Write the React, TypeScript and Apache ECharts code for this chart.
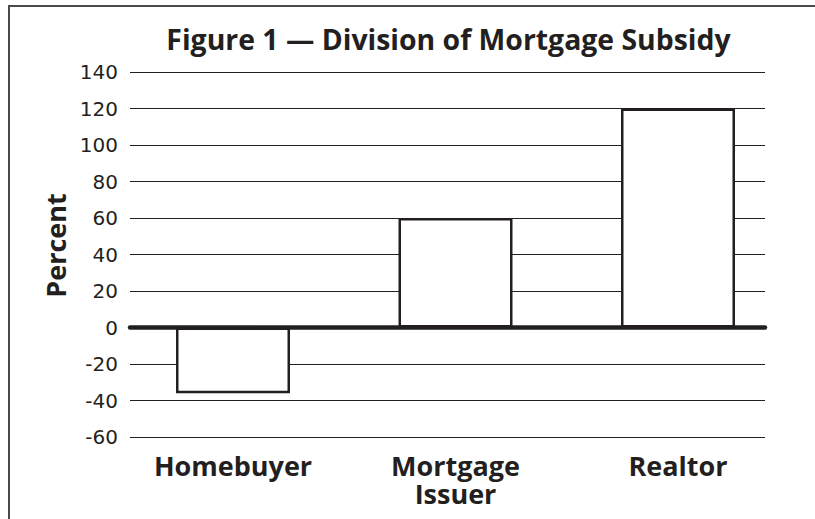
import React, { useEffect, useRef } from "react";
import * as echarts from "echarts";

const categories = ["Homebuyer", "Mortgage\nIssuer", "Realtor"];
const values = [-36, 60, 120];
const yMin = -60;
const yMax = 140;
const yInterval = 20;
const titleText = "Figure 1 \u2014 Division of Mortgage Subsidy";
const yName = "Percent";

const INK = "#231f20";
const FONT = "'Open Sans', 'Noto Sans', sans-serif";
const NUM_FONT = "'DejaVu Sans', 'Open Sans', sans-serif";

export default function App() {
  const ref = useRef<HTMLDivElement>(null);
  useEffect(() => {
    if (!ref.current) return;
    const chart = echarts.init(ref.current, undefined, { renderer: "svg" });
    chart.setOption({
      animation: false,
      backgroundColor: "#ffffff",
      textStyle: { fontFamily: FONT },
      graphic: [
        {
          type: "rect",
          shape: { x: 9, y: 6, width: 1000, height: 700 },
          style: { fill: "none", stroke: "#4a4a4a", lineWidth: 2 },
          silent: true,
          z: -1,
        },
        {
          type: "text",
          x: 448.5,
          y: 39,
          style: {
            text: titleText,
            fontFamily: FONT,
            fontWeight: "bold",
            fontSize: 28.4,
            fill: INK,
            textAlign: "center",
            textVerticalAlign: "middle",
          },
        },
        {
          type: "text",
          x: 55,
          y: 245.5,
          rotation: Math.PI / 2,
          style: {
            text: yName,
            fontFamily: FONT,
            fontWeight: "bold",
            fontSize: 27,
            fill: INK,
            textAlign: "center",
            textVerticalAlign: "middle",
          },
        },
      ],
      grid: [
        { left: 130, right: 50, top: 72, bottom: 82 },
        { left: 121.75, right: 25.75, top: 72, bottom: 82 },
      ],
      xAxis: [
        {
          type: "category",
          gridIndex: 0,
          data: categories,
          axisLine: { show: true, onZero: true, lineStyle: { color: INK, width: 4.5 } },
          axisTick: { show: false },
          axisLabel: { show: false },
          splitLine: { show: false },
          z: 5,
        },
        {
          type: "category",
          gridIndex: 1,
          data: categories,
          position: "bottom",
          axisLine: { show: false, onZero: false },
          axisTick: { show: false },
          axisLabel: {
            show: true,
            margin: 14,
            color: INK,
            fontFamily: FONT,
            fontWeight: "bold",
            fontSize: 27,
            lineHeight: 28,
            interval: 0,
          },
        },
      ],
      yAxis: [
        {
          type: "value",
          gridIndex: 0,
          min: yMin,
          max: yMax,
          interval: yInterval,
          axisLine: { show: false },
          axisTick: { show: false },
          axisLabel: { color: INK, fontFamily: NUM_FONT, fontSize: 20, margin: 12 },
          splitLine: { show: true, lineStyle: { color: INK, width: 1.2 } },
        },
        {
          type: "value",
          gridIndex: 1,
          min: yMin,
          max: yMax,
          interval: yInterval,
          show: false,
          splitLine: { show: false },
        },
      ],
      series: [
        {
          type: "bar",
          xAxisIndex: 1,
          yAxisIndex: 1,
          data: values,
          barWidth: 114,
          itemStyle: { color: "#ffffff", borderColor: INK, borderWidth: 2.5 },
          z: 3,
        },
      ],
    });
    return () => chart.dispose();
  }, []);
  return (
    <div
      ref={ref}
      style={{ position: "fixed", left: 0, top: 0, width: 815, height: 519 }}
    />
  );
}
